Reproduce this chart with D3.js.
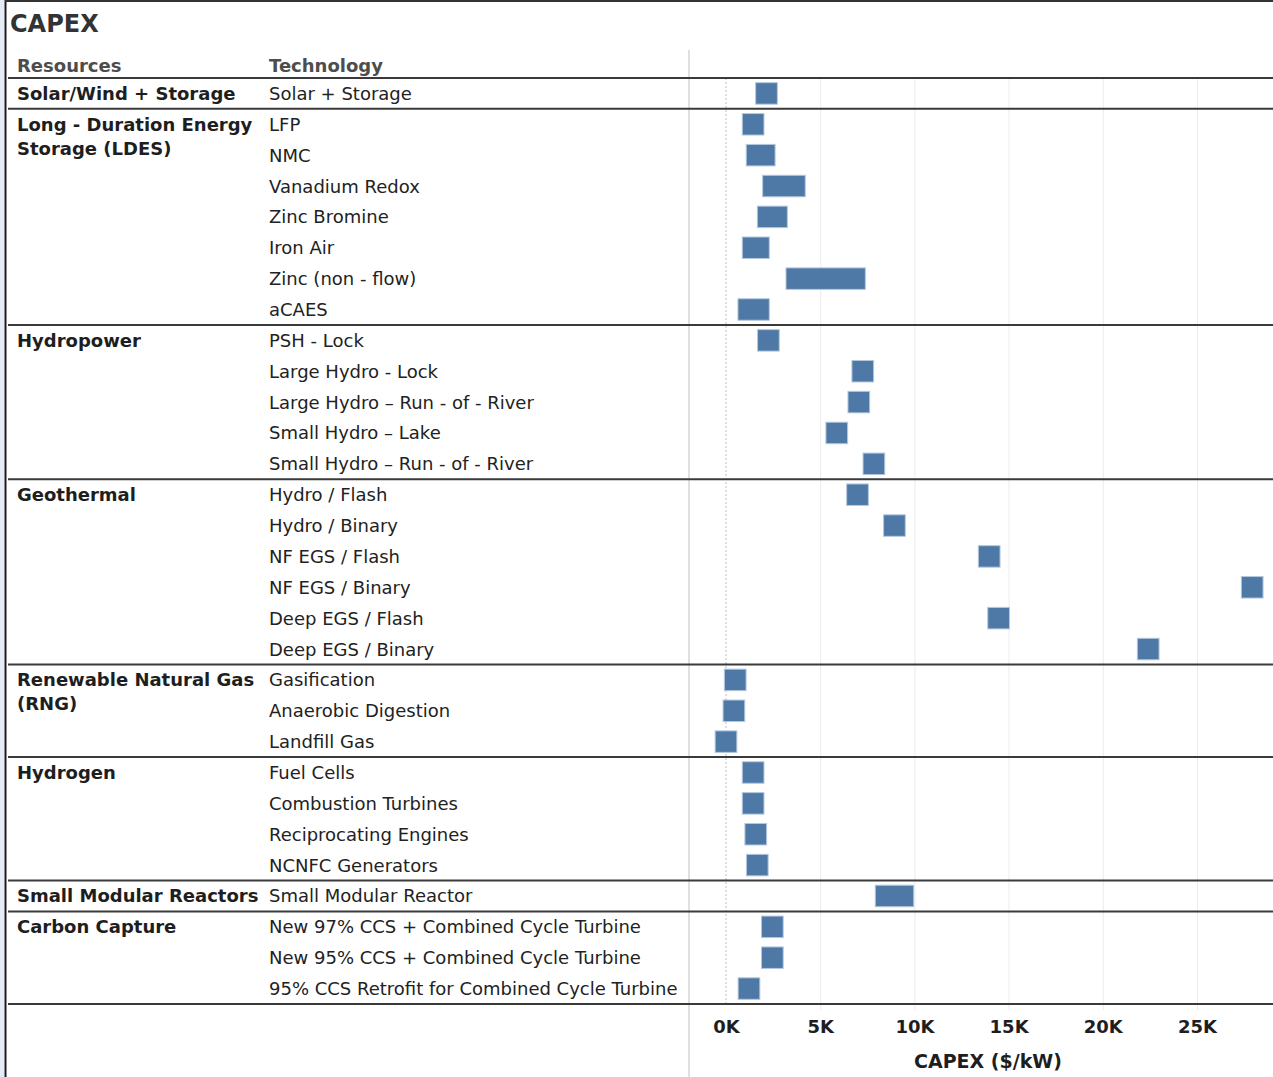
<!DOCTYPE html>
<html>
<head>
<meta charset="utf-8">
<title>CAPEX</title>
<script src="https://d3js.org/d3.v7.min.js"></script>
<style>
  body { margin: 0; background: #fff; }
  svg { display: block; font-family: "DejaVu Sans", sans-serif; }
  .tech { font-size: 18px; fill: #222; }
  .res { font-size: 18px; font-weight: bold; fill: #1e1e1e; }
  .hdr { font-size: 18px; font-weight: bold; fill: #4d4d4d; }
  .title { font-size: 24px; font-weight: bold; fill: #333; }
  .xaxis text { font-size: 18px; font-weight: bold; fill: #1e1e1e; font-family: "DejaVu Sans", sans-serif; }
  .grid line { stroke: #ececec; stroke-width: 1; }
  .sep { stroke: #3a3a3a; stroke-width: 2; }
  .bar { fill: #4e79a7; stroke: #b4c8dd; stroke-width: 1; }
</style>
</head>
<body>
<script>
// ---------------------------------------------------------------
// data
// ---------------------------------------------------------------
var resources = [
  "Solar/Wind + Storage",
  "Long - Duration Energy Storage (LDES)",
  "Hydropower",
  "Geothermal",
  "Renewable Natural Gas (RNG)",
  "Hydrogen",
  "Small Modular Reactors",
  "Carbon Capture"
];

var technology = [
  "Solar + Storage",
  "LFP", "NMC", "Vanadium Redox", "Zinc Bromine", "Iron Air", "Zinc (non - flow)", "aCAES",
  "PSH - Lock", "Large Hydro - Lock", "Large Hydro \u2013 Run - of - River", "Small Hydro \u2013 Lake", "Small Hydro \u2013 Run - of - River",
  "Hydro / Flash", "Hydro / Binary", "NF EGS / Flash", "NF EGS / Binary", "Deep EGS / Flash", "Deep EGS / Binary",
  "Gasification", "Anaerobic Digestion", "Landfill Gas",
  "Fuel Cells", "Combustion Turbines", "Reciprocating Engines", "NCNFC Generators",
  "Small Modular Reactor",
  "New 97% CCS + Combined Cycle Turbine", "New 95% CCS + Combined Cycle Turbine", "95% CCS Retrofit for Combined Cycle Turbine"
];

// index into resources for each technology
var resourceOf = [0, 1,1,1,1,1,1,1, 2,2,2,2,2, 3,3,3,3,3,3, 4,4,4, 5,5,5,5, 6, 7,7,7];

// CAPEX range, $/kW (low == high where only one value is shown)
var capexLow  = [2150, 1440, 1650, 2520, 2240, 1440, 3760, 1210, 2250, 7260, 7050, 5880, 7850,
                 6980, 8940, 13970, 27930, 14470, 22410, 490, 420, 0, 1440, 1440, 1580, 1660,
                 8500, 2460, 2460, 1220];
var capexHigh = [2150, 1440, 2030, 3630, 2680, 1720, 6820, 1720, 2250, 7260, 7050, 5880, 7850,
                 6980, 8940, 13970, 27930, 14470, 22410, 490, 420, 0, 1440, 1440, 1580, 1660,
                 9390, 2460, 2460, 1220];

var xTicks = [0, 5000, 10000, 15000, 20000, 25000];

// ---------------------------------------------------------------
// layout
// ---------------------------------------------------------------
var W = 1273, H = 1077;
var tableTop = 78, tableBottom = 1004;
var panelX = 689;
var resX = 17, techX = 269;
var halfMark = 10.85, markH = 21.5;

var svg = d3.select("body").append("svg").attr("width", W).attr("height", H);

// frame
svg.append("rect").attr("x", 0).attr("y", 0).attr("width", 4).attr("height", H).attr("fill", "#e4edf7");
svg.append("line").attr("x1", 5.5).attr("x2", 5.5).attr("y1", 0).attr("y2", H).attr("stroke", "#1a1a1a").attr("stroke-width", 2);
svg.append("line").attr("x1", 5).attr("x2", W).attr("y1", 1).attr("y2", 1).attr("stroke", "#333").attr("stroke-width", 2);

var x = d3.scaleLinear().domain([0, 25000]).range([726, 1197]);
var y = d3.scaleBand().domain(d3.range(technology.length)).range([tableTop, tableBottom]);

// grid lines
var grid = svg.append("g").attr("class", "grid")
  .attr("transform", "translate(0," + tableBottom + ")")
  .call(d3.axisBottom(x).tickValues(xTicks.filter(function(d){ return d !== 0; }))
        .tickSize(-(tableBottom - tableTop) - 0).tickFormat(""));
grid.select(".domain").remove();
grid.selectAll("line").attr("y2", -(tableBottom - tableTop)).attr("y1", 6);

// zero line
svg.append("line").attr("x1", x(0)).attr("x2", x(0)).attr("y1", tableTop).attr("y2", tableBottom)
  .attr("stroke", "#bdbdbd").attr("stroke-dasharray", "2,2");

// panel divider
svg.append("line").attr("x1", panelX).attr("x2", panelX).attr("y1", 50).attr("y2", H)
  .attr("stroke", "#d6d6d6").attr("stroke-width", 1.5);

// title + headers
svg.append("text").attr("class", "title").attr("x", 10).attr("y", 32).text("CAPEX");
svg.append("text").attr("class", "hdr").attr("x", resX).attr("y", 72).text("Resources");
svg.append("text").attr("class", "hdr").attr("x", techX).attr("y", 72).text("Technology");

// technology labels
svg.selectAll(".tech").data(technology).enter().append("text")
  .attr("class", "tech")
  .attr("x", techX)
  .attr("y", function(d, i){ return y(i) + y.bandwidth() / 2 + 6.5; })
  .text(function(d){ return d; });

// resource groups
var groups = resources.map(function(name, g){
  var idx = d3.range(technology.length).filter(function(i){ return resourceOf[i] === g; });
  return { name: name, first: d3.min(idx), last: d3.max(idx) };
});

groups.forEach(function(g){
  var t = svg.append("text").attr("class", "res").attr("x", resX)
    .attr("y", y(g.first) + y.bandwidth() / 2 + 6.5);
  // simple word wrap
  var words = g.name.split(" "), line = [], lineNo = 0;
  var ts = t.append("tspan").attr("x", resX);
  words.forEach(function(w){
    line.push(w);
    ts.text(line.join(" "));
    if (ts.node().getComputedTextLength() > 248 && line.length > 1) {
      line.pop();
      ts.text(line.join(" "));
      line = [w];
      lineNo++;
      ts = t.append("tspan").attr("x", resX).attr("dy", 24).text(w);
    }
  });
});

// separators
var sepY = [tableTop].concat(groups.map(function(g){ return y(g.last) + y.bandwidth(); }));
svg.selectAll(".sep").data(sepY).enter().append("line")
  .attr("class", "sep")
  .attr("x1", 8).attr("x2", W)
  .attr("y1", function(d){ return d; }).attr("y2", function(d){ return d; });

// bars
svg.selectAll(".bar").data(technology).enter().append("rect")
  .attr("class", "bar")
  .attr("x", function(d, i){ return x(capexLow[i]) - halfMark; })
  .attr("width", function(d, i){ return x(capexHigh[i]) - x(capexLow[i]) + 2 * halfMark; })
  .attr("y", function(d, i){ return y(i) + (y.bandwidth() - markH) / 2; })
  .attr("height", markH);

// x axis
var xAxis = svg.append("g").attr("class", "xaxis")
  .attr("transform", "translate(0," + tableBottom + ")")
  .call(d3.axisBottom(x).tickValues(xTicks).tickSize(0).tickPadding(16)
        .tickFormat(function(d){ return (d / 1000) + "K"; }));
xAxis.select(".domain").remove();

svg.append("text").attr("class", "xaxis")
  .attr("x", 988).attr("y", 1068)
  .attr("text-anchor", "middle")
  .style("font-size", "19px").style("font-weight", "bold").style("fill", "#1e1e1e")
  .text("CAPEX ($/kW)");
</script>
</body>
</html>
